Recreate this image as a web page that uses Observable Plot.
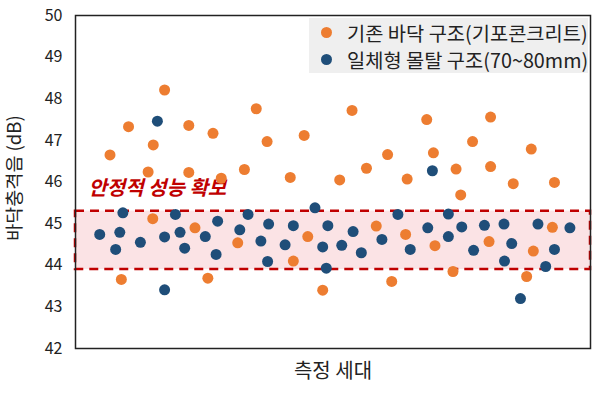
<!DOCTYPE html>
<html>
<head>
<meta charset="utf-8">
<script src="https://cdn.jsdelivr.net/npm/d3@7"></script>
<script src="https://cdn.jsdelivr.net/npm/@observablehq/plot@0.6"></script>
<style>
  html, body { margin: 0; padding: 0; background: #fff; }
  #wrap { position: relative; width: 600px; height: 395px; font-family: "Noto Sans CJK KR", "Noto Sans", sans-serif; }
  #legend { position: absolute; left: 309px; top: 18px; width: 279px; height: 55px; background: #EFEFEF; }
  .item { position: absolute; left: 0; height: 27px; display: flex; align-items: center; font-size: 19.8px; color: #222; white-space: nowrap; }
  .sw { display: inline-block; width: 11px; height: 11px; border-radius: 50%; margin-left: 12px; margin-right: 15px; }
</style>
</head>
<body>
<div id="wrap"></div>
<script>
// Series names
const seriesNames = ["기존 바닥 구조(기포콘크리트)", "일체형 몰탈 구조(70~80mm)"];
const seriesColors = ["#ED7D31", "#1F4E79"];

// 기존 바닥 구조 (orange)
const orangeX = [6.7, 8.9, 10.3, 14.1, 15.0, 15.1, 17.3, 22.0, 22.0, 23.2, 25.7, 26.7, 28.3, 31.5, 32.8, 35.1, 37.2, 41.7, 42.3, 44.4, 45.1, 48.0, 51.3, 53.7, 56.5, 58.4, 60.6, 61.4, 64.1, 64.4, 68.2, 69.5, 69.8, 73.3, 73.9, 74.8, 77.1, 80.3, 80.6, 80.6, 85.0, 87.6, 88.5, 88.9, 92.6, 93.0];
const orangeY = [46.65, 43.66, 47.33, 46.24, 45.12, 46.89, 48.21, 47.36, 46.23, 44.90, 43.69, 47.17, 46.09, 44.54, 46.30, 47.76, 46.97, 46.11, 44.10, 47.12, 44.69, 43.40, 46.05, 47.72, 46.33, 44.94, 46.66, 43.61, 44.74, 46.07, 47.50, 46.70, 44.47, 43.85, 46.31, 45.69, 46.97, 44.57, 46.37, 47.56, 45.96, 43.73, 46.79, 44.34, 44.91, 45.99];

// 일체형 몰탈 구조 (blue)
const blueX = [4.7, 7.8, 8.6, 9.2, 12.6, 15.9, 17.3, 17.3, 19.4, 20.3, 21.2, 25.2, 27.3, 27.6, 31.9, 33.5, 36.0, 37.3, 37.5, 40.7, 42.3, 46.5, 48.0, 48.7, 49.0, 51.7, 53.9, 55.5, 59.5, 62.6, 65.0, 68.4, 69.3, 72.4, 72.4, 75.0, 77.3, 79.4, 83.2, 83.3, 84.7, 86.4, 89.8, 91.3, 93.0, 96.0];
const blueY = [44.74, 44.38, 44.79, 45.26, 44.55, 47.46, 44.68, 43.41, 45.22, 44.79, 44.41, 44.69, 44.26, 45.06, 44.85, 45.22, 44.58, 44.09, 44.99, 44.49, 44.95, 45.38, 44.44, 43.93, 44.95, 44.48, 44.81, 44.30, 44.62, 45.22, 44.38, 44.90, 46.27, 45.23, 44.69, 44.92, 44.36, 44.96, 44.99, 44.10, 44.52, 43.20, 44.99, 43.97, 44.38, 44.90];

// Y axis ticks and stable band
const yTicks = [42, 43, 44, 45, 46, 47, 48, 49, 50];
const bandLow = 43.9, bandHigh = 45.3;
const bandLabel = "안정적 성능 확보";
const bandLabelPos = [2.5, 45.85];
const xTitle = "측정 세대";
const yTitle = "바닥충격음 (dB)";

const orange = orangeX.map((x, i) => ({x, y: orangeY[i]}));
const blue = blueX.map((x, i) => ({x, y: blueY[i]}));

const chart = Plot.plot({
  width: 600,
  height: 395,
  marginLeft: 75,
  marginRight: 10,
  marginTop: 15,
  marginBottom: 47,
  style: { fontFamily: '"Noto Sans CJK KR", "Noto Sans", sans-serif', fontSize: "16px", color: "#222", background: "#fff" },
  x: { domain: [0, 100] },
  y: { domain: [42, 50] },
  marks: [
    Plot.rect([{x1: 0, x2: 100, y1: bandLow, y2: bandHigh}], {
      x1: "x1", x2: "x2", y1: "y1", y2: "y2",
      fill: "#FBE3E5", stroke: "#C00000", strokeWidth: 2.5, strokeDasharray: "9,6"
    }),
    Plot.text([bandLabel], {
      x: bandLabelPos[0], y: bandLabelPos[1], text: d => d, textAnchor: "start",
      fill: "#C00000", fontSize: 20, fontWeight: "bold", fontStyle: "italic"
    }),
    Plot.dot(orange, { x: "x", y: "y", r: 5.5, fill: seriesColors[0] }),
    Plot.dot(blue, { x: "x", y: "y", r: 5.5, fill: seriesColors[1] }),
    Plot.axisY({ ticks: yTicks, tickSize: 0, tickPadding: 13, label: null, fontSize: 16, tickFormat: d => String(d) }),
    Plot.axisX({ ticks: [], label: null }),
    Plot.text([xTitle], { frameAnchor: "bottom", dy: 29, text: d => d, fontSize: 20, fill: "#222" }),
    Plot.text([yTitle], { frameAnchor: "left", dx: -60, dy: -4, rotate: -90, textAnchor: "middle", text: d => d, fontSize: 18.5, fill: "#222" }),
    Plot.frame({ stroke: "#222", strokeWidth: 1.5 })
  ]
});

const wrap = document.getElementById("wrap");
wrap.appendChild(chart);

const legend = document.createElement("div");
legend.id = "legend";
seriesNames.forEach((name, i) => {
  const item = document.createElement("div");
  item.className = "item";
  item.style.top = (i * 27 + 1) + "px";
  const sw = document.createElement("span");
  sw.className = "sw";
  sw.style.background = seriesColors[i];
  item.appendChild(sw);
  item.appendChild(document.createTextNode(name));
  legend.appendChild(item);
});
wrap.appendChild(legend);
</script>
</body>
</html>
